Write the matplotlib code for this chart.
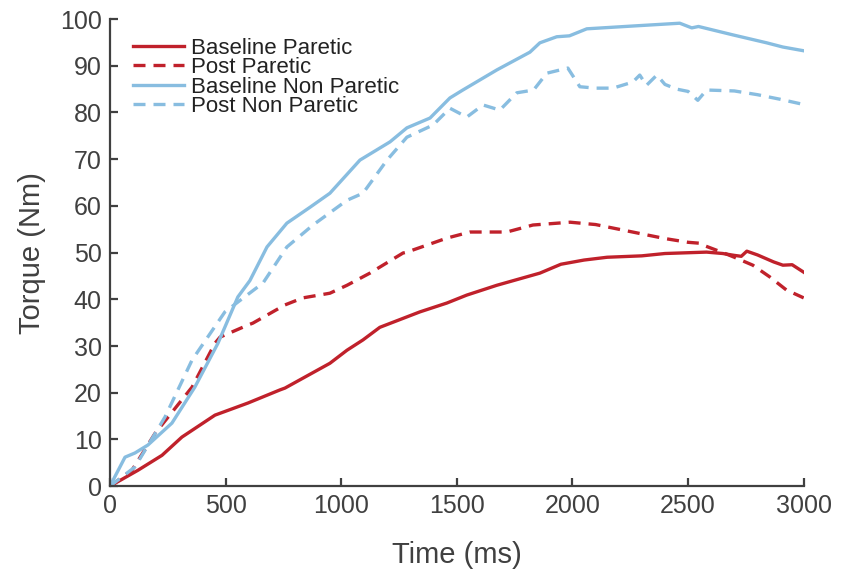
import matplotlib
matplotlib.use("Agg")
import matplotlib.pyplot as plt

# values (time in ms, torque in Nm)
t_base_par = [0, 121, 225, 311, 454, 597, 735, 757, 951, 1025, 1094, 1167, 1340, 1457,
              1543, 1673, 1859, 1950, 2050, 2150, 2300, 2400, 2580, 2650, 2700, 2730,
              2754, 2800, 2870, 2910, 2950, 3000]
base_par = [0, 3.4, 6.6, 10.5, 15.2, 17.8, 20.6, 21, 26.3, 29.1, 31.3, 34, 37.3, 39.2,
            40.9, 43, 45.6, 47.5, 48.4, 49, 49.3, 49.8, 50.1, 49.8, 49.4, 49.2,
            50.3, 49.5, 48, 47.3, 47.4, 45.8]

t_post_par = [0, 95, 195, 355, 454, 476, 597, 618, 757, 834, 951, 1025, 1124, 1267,
              1284, 1457, 1557, 1716, 1829, 1990, 2100, 2200, 2300, 2400, 2500, 2550,
              2570, 2650, 2700, 2780, 2853, 2925, 3000]
post_par = [0, 3.4, 11.3, 21.2, 30.6, 31.9, 34.5, 34.9, 38.8, 40.3, 41.3, 43, 45.6, 49.9,
            50.1, 53.1, 54.4, 54.4, 55.9, 56.5, 56, 55, 54, 53, 52.2, 52,
            51.5, 50, 49, 47.3, 44.8, 42, 40.3]

t_base_nonpar = [0, 65, 108, 164, 268, 367, 467, 553, 605, 679, 765, 865, 951, 1081,
                 1211, 1284, 1384, 1470, 1526, 1673, 1816, 1859, 1932, 1987, 2062, 2261,
                 2464, 2516, 2545, 2694, 2840, 2910, 3000]
base_nonpar = [0, 6.2, 7.1, 8.8, 13.5, 21.2, 30.6, 40.5, 44, 51.2, 56.3, 59.7, 62.7, 69.8,
               73.7, 76.7, 78.8, 83.1, 84.8, 89.1, 92.9, 94.9, 96.2, 96.4, 97.9, 98.5,
               99.1, 98.1, 98.4, 96.6, 94.9, 94, 93.2]

t_post_nonpar = [0, 108, 238, 355, 497, 662, 765, 878, 1025, 1094, 1198, 1284, 1397, 1470,
                 1543, 1613, 1686, 1759, 1832, 1889, 1980, 2032, 2100, 2175, 2261, 2291,
                 2320, 2365, 2400, 2450, 2500, 2542, 2580, 2700, 2800, 2900, 3000]
post_nonpar = [0, 4.1, 14.8, 27, 37.3, 43.5, 51.2, 55.9, 61.2, 62.7, 69.8, 74.7, 77.3, 80.9,
               79, 81.6, 80.5, 84.2, 84.8, 88.4, 89.5, 85.5, 85.2, 85.2, 86.5, 88,
               85.8, 88, 86, 85, 84.5, 82.6, 84.8, 84.6, 83.8, 82.8, 81.7]

red = "#C0212B"
blue = "#88BDE0"
grey = "#404040"

fig = plt.figure(figsize=(8.46, 5.76), dpi=100)
ax = fig.add_axes([0.130, 0.156, 0.820, 0.811])

lw = 2.4
ax.plot(t_base_par, base_par, color=red, lw=lw, label="Baseline Paretic")
ax.plot(t_post_par, post_par, color=red, lw=lw, dashes=(3.6, 2.4), label="Post Paretic")
ax.plot(t_base_nonpar, base_nonpar, color=blue, lw=lw, label="Baseline Non Paretic")
ax.plot(t_post_nonpar, post_nonpar, color=blue, lw=lw, dashes=(3.6, 2.4), label="Post Non Paretic")

ax.set_xlim(0, 3000)
ax.set_ylim(0, 100)
ax.set_xticks(range(0, 3001, 500))
ax.set_yticks(range(0, 101, 10))

for side in ("top", "right"):
    ax.spines[side].set_visible(False)
for side in ("left", "bottom"):
    ax.spines[side].set_color(grey)
    ax.spines[side].set_linewidth(1.6)

ax.tick_params(direction="in", length=6, width=1.6, color=grey,
               labelcolor=grey, labelsize=18, pad=6)
for lab in ax.get_xticklabels() + ax.get_yticklabels():
    lab.set_fontfamily("Liberation Sans")

ax.set_xlabel("Time (ms)", fontsize=21, color=grey, family="Liberation Sans", labelpad=16)
ax.set_ylabel("Torque (Nm)", fontsize=21, color=grey, family="Liberation Sans", labelpad=10)

leg = ax.legend(loc="upper left", bbox_to_anchor=(0.020, 0.979), frameon=False,
                prop={"family": "Liberation Sans", "size": 16},
                handlelength=2.3, handletextpad=0.3, labelspacing=-0.07,
                borderaxespad=0.0)
for txt in leg.get_texts():
    txt.set_color("#222222")

fig.savefig("out.png", dpi=100)
